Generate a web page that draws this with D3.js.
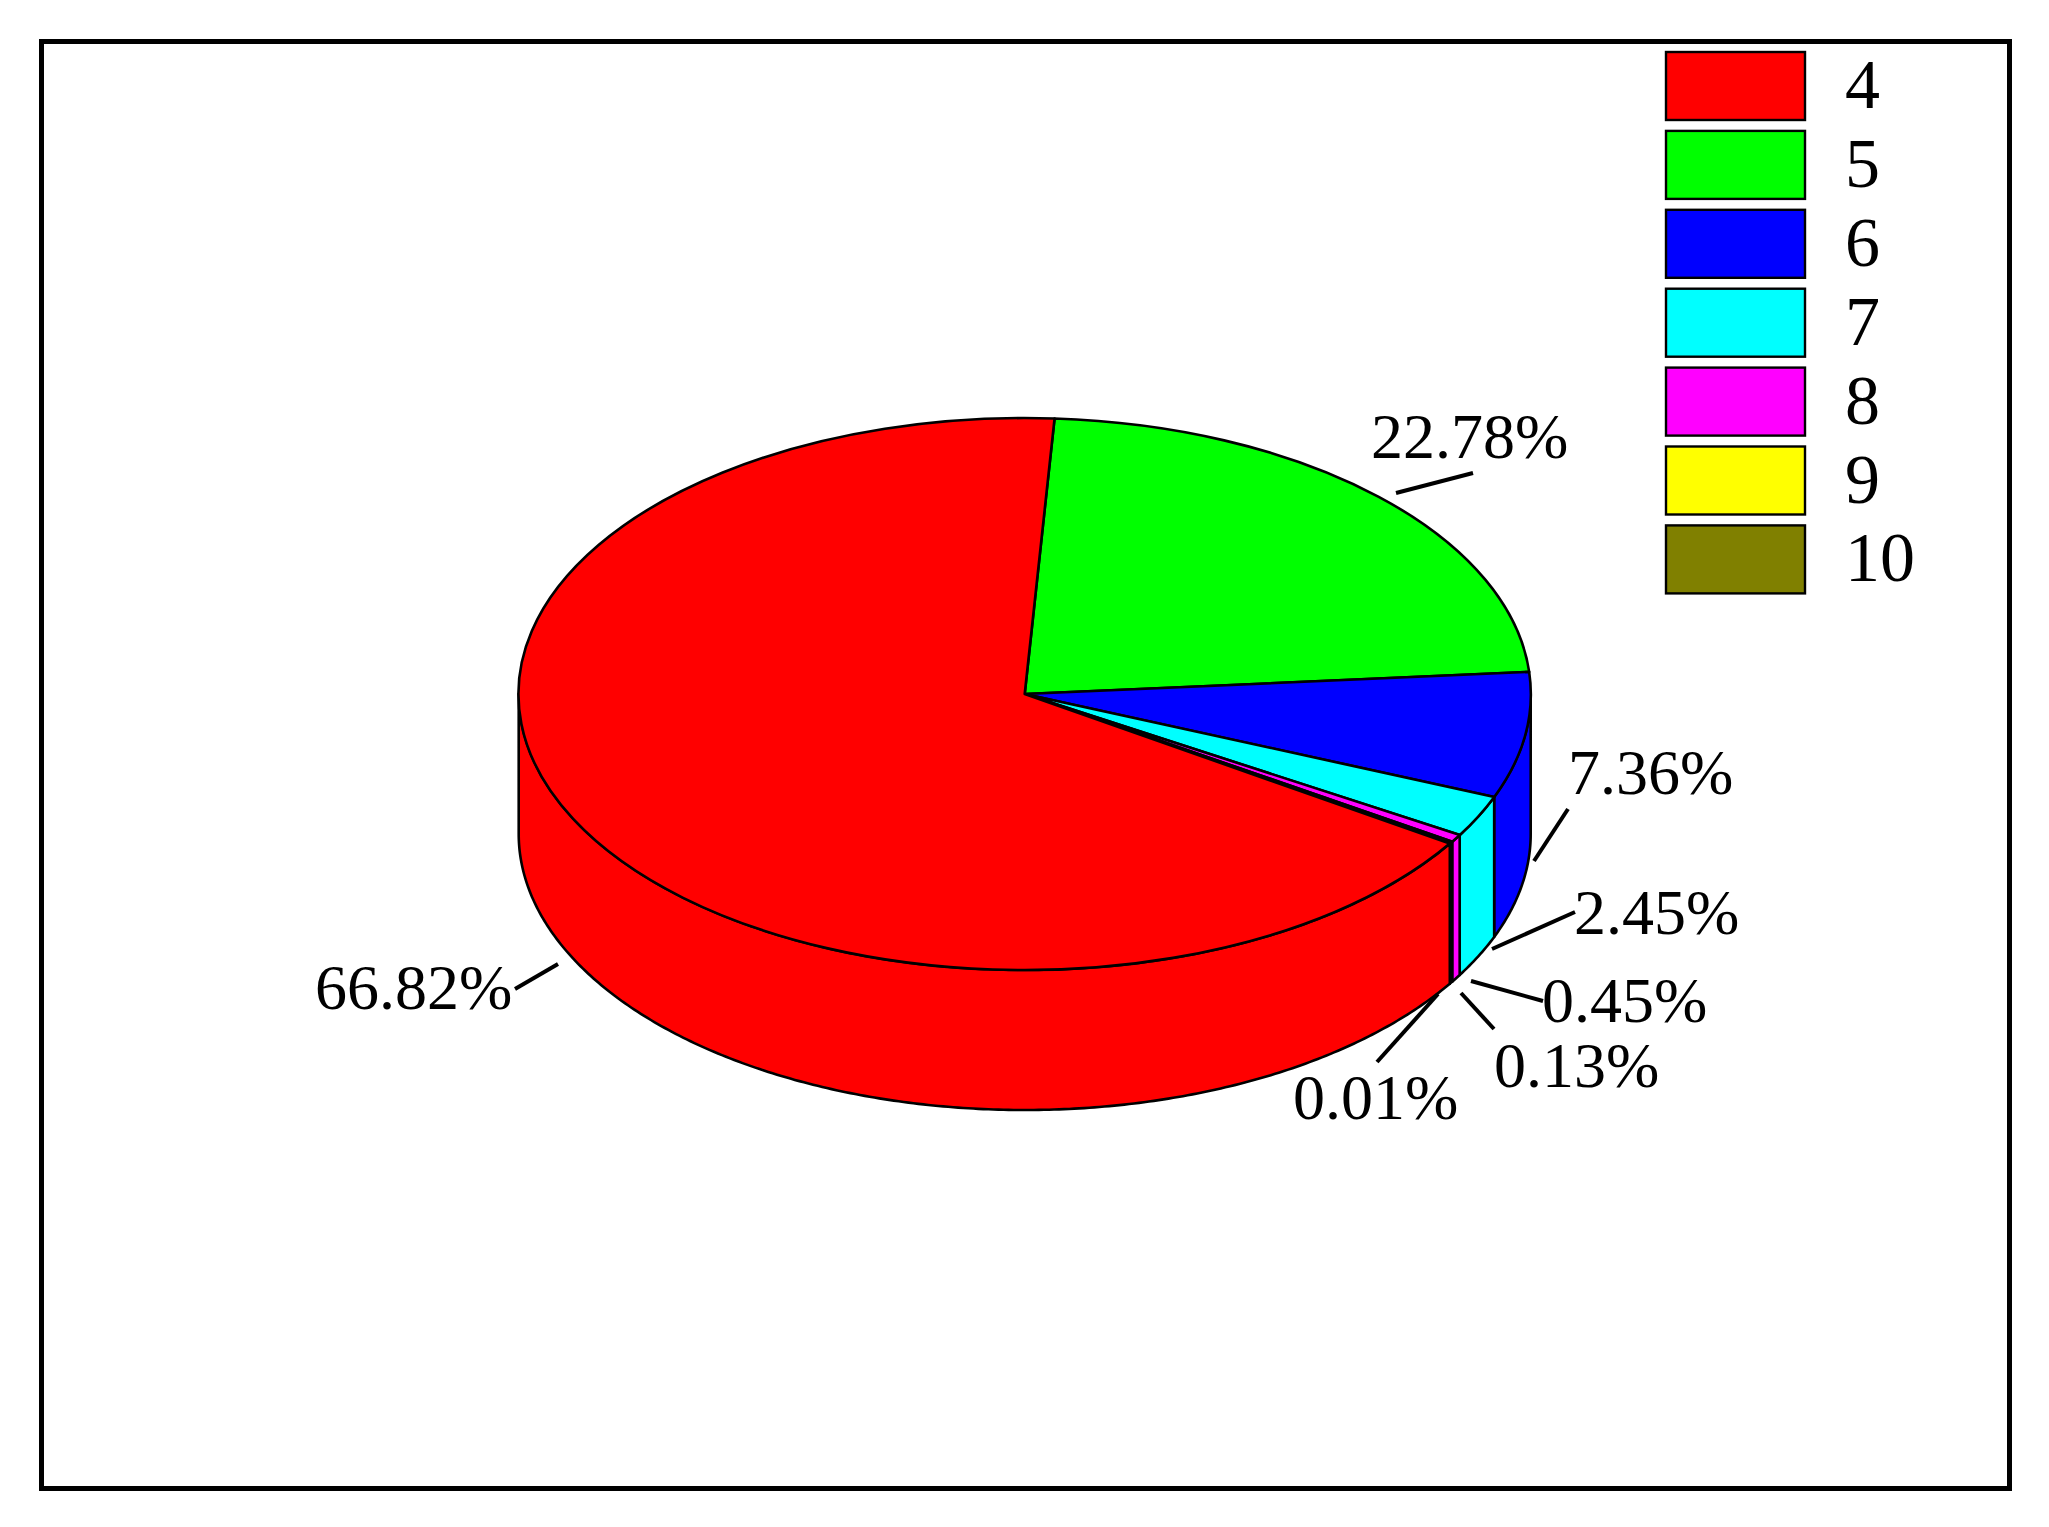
<!DOCTYPE html>
<html><head><meta charset="utf-8">
<script src="https://cdn.jsdelivr.net/npm/d3@7"></script>
<style>html,body{margin:0;background:#fff}svg{display:block}text{font-family:"Liberation Serif",serif;fill:#000}</style>
</head><body><svg id="c" width="2049" height="1527"></svg>
<script>
const categories = ["4","5","6","7","8","9","10"];
const shares = [66.82,22.78,7.36,2.45,0.45,0.13,0.01];
const colors = ["#ff0000","#00ff00","#0000ff","#00ffff","#ff00ff","#ffff00","#808000"];

(function(){
const cx=1024.7,cy=694,rx=506,ry=276,depth=140,sw=2.6;
const svg=d3.select("#c");
svg.append("rect").attr("x",41.5).attr("y",41.5).attr("width",1968).attr("height",1447)
  .attr("fill","#fff").attr("stroke","#000").attr("stroke-width",5);

// Clockwise order: 5,6,7,8,9,10,4 with slice "5" starting just right of top
const t0=3.4*Math.PI/180;
const order=[1,2,3,4,5,6,0];
const arcs=d3.pie().sort(null).value(i=>shares[i]).startAngle(t0).endAngle(t0+2*Math.PI)(order);

const px=t=>cx+rx*Math.sin(t), py=t=>cy-ry*Math.cos(t);
const line=d3.line();
const front=[Math.PI/2,3*Math.PI/2];
arcs.map(a=>{
  const s=Math.max(a.startAngle,front[0]), e=Math.min(a.endAngle,front[1]);
  return {a,s,e};
}).filter(d=>d.e>d.s).forEach(d=>{
  const n=Math.max(2,Math.ceil((d.e-d.s)/0.01));
  const ts=d3.range(n+1).map(i=>d.s+(d.e-d.s)*i/n);
  const pts=ts.map(t=>[px(t),py(t)]).concat(ts.slice().reverse().map(t=>[px(t),py(t)+depth]));
  svg.append("path").attr("d",line(pts)+"Z").attr("fill",colors[d.a.data])
    .attr("stroke","#000").attr("stroke-width",sw).attr("stroke-linejoin","round");
});
const arcGen=d3.arc().innerRadius(0).outerRadius(1);
const face=svg.append("g").attr("transform",`translate(${cx},${cy}) scale(${rx},${ry})`);
face.selectAll("path").data(arcs).join("path")
  .attr("d",arcGen).attr("fill",d=>colors[d.data])
  .attr("stroke","#000").attr("stroke-width",sw).attr("vector-effect","non-scaling-stroke").attr("stroke-linejoin","round");

const ly=d3.scaleBand().domain(categories).range([52,52+78.9*7]).paddingInner(0);
const leg=svg.append("g");
categories.forEach((c,i)=>{
  leg.append("rect").attr("x",1666).attr("y",ly(c)).attr("width",139).attr("height",68)
    .attr("fill",colors[i]).attr("stroke","#000").attr("stroke-width",2.4);
  leg.append("text").attr("x",1845).attr("y",ly(c)+56).attr("font-size",70).text(c);
});

const placement={
 "4":{x:315,y:1009,l:[515,989,558,964]},
 "5":{x:1371,y:458,l:[1396,493,1473,473]},
 "6":{x:1568,y:794,l:[1534,861,1568,809]},
 "7":{x:1574,y:934,l:[1492,949,1575,912]},
 "8":{x:1542,y:1022,l:[1471,981,1543,1001]},
 "9":{x:1494,y:1087,l:[1461,993,1494,1029]},
 "10":{x:1293,y:1119,l:[1438,994,1377,1062]}
};
categories.forEach((c,i)=>{
  const p=placement[c];
  svg.append("line").attr("x1",p.l[0]).attr("y1",p.l[1]).attr("x2",p.l[2]).attr("y2",p.l[3])
    .attr("stroke","#000").attr("stroke-width",4);
  svg.append("text").attr("x",p.x).attr("y",p.y).attr("font-size",64).text(shares[i].toFixed(2)+"%");
});
})();
</script></body></html>
